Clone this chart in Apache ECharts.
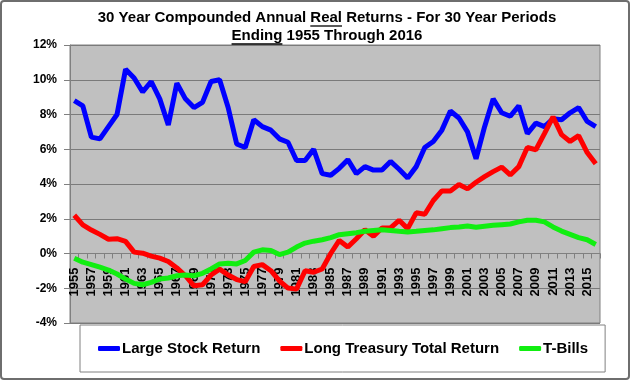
<!DOCTYPE html>
<html>
<head>
<meta charset="utf-8">
<script src="https://cdn.jsdelivr.net/npm/echarts@6/dist/echarts.min.js"></script>
<style>
html,body{margin:0;padding:0;background:#fff;}
#chart{width:630px;height:380px;}
</style>
</head>
<body>
<div id="chart"></div>
<script>
var years = ['1955','1956','1957','1958','1959','1960','1961','1962','1963','1964',
  '1965','1966','1967','1968','1969','1970','1971','1972','1973','1974',
  '1975','1976','1977','1978','1979','1980','1981','1982','1983','1984',
  '1985','1986','1987','1988','1989','1990','1991','1992','1993','1994',
  '1995','1996','1997','1998','1999','2000','2001','2002','2003','2004',
  '2005','2006','2007','2008','2009','2010','2011','2012','2013','2014',
  '2015','2016'];

var largeStock = [8.8, 8.5, 6.7, 6.6, 7.3, 8.0, 10.6, 10.1, 9.3, 9.9,
  8.9, 7.4, 9.8, 8.9, 8.4, 8.7, 9.9, 10.0, 8.4, 6.3,
  6.1, 7.7, 7.3, 7.1, 6.6, 6.4, 5.35, 5.35, 6.0, 4.6,
  4.5, 4.9, 5.4, 4.6, 5.0, 4.8, 4.8, 5.3, 4.85, 4.35,
  5.0, 6.1, 6.45, 7.1, 8.2, 7.8, 7.0, 5.45, 7.3, 8.9,
  8.1, 7.9, 8.5, 6.9, 7.5, 7.3, 7.75, 7.7, 8.1, 8.4,
  7.6, 7.3];

var longTreasury = [2.2, 1.65, 1.35, 1.1, 0.82, 0.85, 0.7, 0.08, 0.02, -0.15,
  -0.27, -0.46, -0.83, -1.28, -1.86, -1.8, -1.24, -0.9, -1.24, -1.5,
  -1.62, -0.75, -0.64, -0.99, -1.57, -1.99, -2.05, -0.99, -1.08, -0.89,
  0.0, 0.75, 0.37, 0.85, 1.37, 0.99, 1.47, 1.47, 1.91, 1.43,
  2.34, 2.26, 3.05, 3.6, 3.6, 3.97, 3.72, 4.1, 4.42, 4.71,
  4.97, 4.52, 5.0, 6.1, 5.97, 6.9, 7.87, 6.84, 6.45, 6.78,
  5.81, 5.16];

var tBills = [-0.27, -0.5, -0.64, -0.79, -0.95, -1.18, -1.47, -1.72, -1.8, -1.66,
  -1.47, -1.41, -1.28, -1.24, -1.28, -1.14, -0.89, -0.6, -0.56, -0.6,
  -0.4, 0.08, 0.21, 0.17, -0.06, 0.08, 0.37, 0.6, 0.71, 0.79,
  0.91, 1.08, 1.14, 1.2, 1.28, 1.33, 1.37, 1.33, 1.28, 1.24,
  1.28, 1.33, 1.36, 1.43, 1.49, 1.53, 1.58, 1.51, 1.57, 1.62,
  1.66, 1.7, 1.82, 1.91, 1.91, 1.82, 1.53, 1.29, 1.1, 0.91,
  0.79, 0.52];

var seriesNames = ['Large Stock Return', 'Long Treasury Total Return', 'T-Bills'];
var seriesColors = ['#0000ff', '#ff0000', '#11ee11'];

var titleLine1Pre = '30 Year Compounded Annual ';
var titleLine1U = 'Real';
var titleLine1Post = ' Returns - For 30 Year Periods';
var titleLine2U = 'Ending';
var titleLine2Post = ' 1955 Through 2016';

var FONT_FAMILY = '"Liberation Sans", Arial, sans-serif';
var titleFont = 'bold 15px ' + FONT_FAMILY;

var mctx = document.createElement('canvas').getContext('2d');
mctx.font = titleFont;
function tw(s){ return mctx.measureText(s).width; }

var titleCX = 327, line1Y = 18, line2Y = 36;
var l1 = titleLine1Pre + titleLine1U + titleLine1Post;
var l2 = titleLine2U + titleLine2Post;
var l1Start = titleCX - tw(l1) / 2;
var l2Start = titleCX - tw(l2) / 2;
var u1x = l1Start + tw(titleLine1Pre), u1w = tw(titleLine1U);
var u2x = l2Start, u2w = tw(titleLine2U);

var GRID_BOTTOM = 57;

var chart = echarts.init(document.getElementById('chart'), null, {renderer: 'canvas'});
var option = {
  backgroundColor: '#ffffff',
  animation: false,
  grid: {left: 70, right: 30, top: 45, bottom: GRID_BOTTOM, show: true, z: 0,
    backgroundColor: '#c0c0c0', borderColor: '#808080', borderWidth: 1},
  xAxis: {
    type: 'category', data: years, boundaryGap: true, position: 'bottom', offset: 0, z: 0,
    axisLine: {onZero: false, lineStyle: {color: '#808080', width: 1}},
    axisTick: {show: true, interval: 0, length: 5, lineStyle: {color: '#808080'}},
    axisLabel: {interval: 1, rotate: 90, margin: 14, color: '#000',
      fontFamily: FONT_FAMILY, fontWeight: 'bold', fontSize: 13},
    splitLine: {show: false}
  },
  yAxis: {
    type: 'value', min: -4, max: 12, interval: 2, z: 0,
    axisLine: {show: true, lineStyle: {color: '#808080', width: 1}},
    axisTick: {show: true, length: 6, lineStyle: {color: '#808080'}},
    axisLabel: {formatter: '{value}%', margin: 13, color: '#000',
      fontFamily: FONT_FAMILY, fontWeight: 'bold', fontSize: 12},
    splitLine: {show: true, lineStyle: {color: '#7a7a7a', width: 1.2}}
  },
  legend: {
    left: 80, top: 325, orient: 'horizontal', z: 20,
    backgroundColor: '#ffffff', borderColor: '#808080', borderWidth: 1,
    padding: [16, 17, 16, 18], itemGap: 20,
    itemWidth: 22, itemHeight: 5, icon: 'roundRect',
    textStyle: {fontFamily: FONT_FAMILY, fontWeight: 'bold', fontSize: 15, color: '#000', padding: [0,0,0,-3]},
    data: seriesNames
  },
  graphic: [
    {type: 'rect', shape: {x: 1, y: 1, width: 628, height: 378, r: 3},
      style: {fill: 'none', stroke: '#6e6e6e', lineWidth: 2}, silent: true, z: 100},
    {type: 'text', x: titleCX, y: line1Y,
      style: {text: l1, font: titleFont, fill: '#000', align: 'center', verticalAlign: 'middle'}},
    {type: 'text', x: titleCX, y: line2Y,
      style: {text: l2, font: titleFont, fill: '#000', align: 'center', verticalAlign: 'middle'}},
    {type: 'line', shape: {x1: u1x, y1: line1Y + 8, x2: u1x + u1w, y2: line1Y + 8},
      style: {stroke: '#000', lineWidth: 1.3}},
    {type: 'line', shape: {x1: u2x, y1: line2Y + 8, x2: u2x + u2w, y2: line2Y + 8},
      style: {stroke: '#000', lineWidth: 1.3}}
  ],
  series: [
    {name: seriesNames[0], type: 'line', data: largeStock, symbol: 'none', z: 10,
      color: seriesColors[0], lineStyle: {width: 5, color: seriesColors[0]}},
    {name: seriesNames[1], type: 'line', data: longTreasury, symbol: 'none', z: 11,
      color: seriesColors[1], lineStyle: {width: 5, color: seriesColors[1]}},
    {name: seriesNames[2], type: 'line', data: tBills, symbol: 'none', z: 12,
      color: seriesColors[2], lineStyle: {width: 5, color: seriesColors[2]}}
  ]
};
chart.setOption(option);
// Move the category axis (line, ticks, labels) up to the 0% level of the value scale.
var zeroY = chart.convertToPixel({yAxisIndex: 0}, 0);
var bottomY = chart.getHeight() - GRID_BOTTOM;
chart.setOption({xAxis: {offset: -(bottomY - zeroY)}});
</script>
</body>
</html>
